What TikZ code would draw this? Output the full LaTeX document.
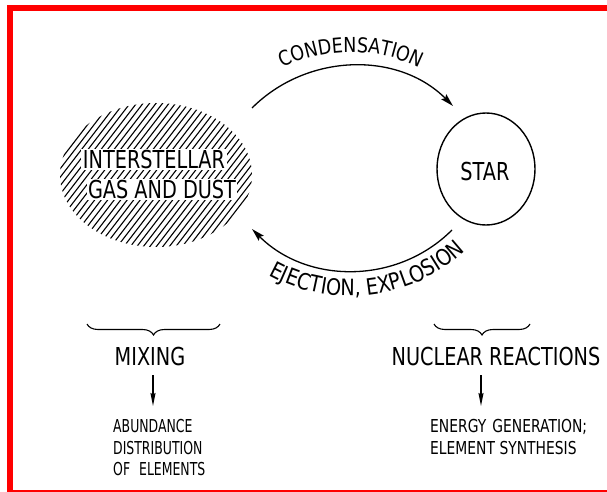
\documentclass[tikz,border=0pt]{standalone}
\usepackage{fontspec}
\usetikzlibrary{arrows.meta,decorations.text,decorations.pathreplacing,shapes.geometric}
\newfontfamily\lettA[FakeStretch=0.78]{DejaVu Sans}
\newfontfamily\lettB[FakeStretch=0.85]{DejaVu Sans}
\newfontfamily\lettC[FakeStretch=0.70]{DejaVu Sans}
\newcommand\bigtxt{\lettA\fontsize{24.7}{28}\selectfont}
\newcommand\condtxt{\lettB\fontsize{20.6}{24}\selectfont}
\newcommand\ejtxt{\lettB\fontsize{22.6}{26}\selectfont}
\newcommand\smalltxtL{\lettC\fontsize{17.8}{21}\selectfont}
\newcommand\smalltxtR{\lettA\fontsize{17.8}{21}\selectfont}
\begin{document}
\begin{tikzpicture}[x=1pt,y=-1pt,
  biglbl/.style={font=\bigtxt, inner sep=1.5pt, text height=18pt, text depth=0pt},
  smallL/.style={font=\smalltxtL, inner sep=0pt, anchor=base west},
  smallR/.style={font=\smalltxtR, inner sep=0pt, anchor=base west},
  arr/.style={-{Stealth[length=13pt,width=7pt,inset=2pt]}, line width=1.3pt},
  darr/.style={-{Stealth[length=13pt,width=5pt,inset=1.5pt]}, line width=1.3pt},
  bracestyle/.style={decorate, decoration={brace, mirror, amplitude=11pt}, line width=1.1pt},
  hatch/.style={line width=1.1pt}]
\useasboundingbox (0,0) rectangle (607,492);
% frame
\fill[red] (7,5) rectangle (607,11);
\fill[red] (7,5) rectangle (13,492);
\fill[red] (13,489.8) rectangle (607,491.6);
% hatched cloud
\coordinate (cloud) at (156,175);
\begin{scope}
  \clip (cloud) ellipse [x radius=96, y radius=72];
  \foreach \t in {-75,-68.5,...,255} \draw[hatch] (\t,260) -- ++(140,-182);
\end{scope}
\node[biglbl, fill=white] (ism1) at (154,159) {INTERSTELLAR};
\node[biglbl, fill=white] (ism2) at (162,189) {GAS AND DUST};
% star
\node[draw, ellipse, line width=1.4pt, minimum width=98pt, minimum height=112pt, inner sep=0pt] (star) at (486,169) {};
\node[biglbl] (startxt) at (485,171) {STAR};
% condensation
\coordinate (c0) at (252,108);
\coordinate (c1) at (453,106);
\draw[arr] (c0) .. controls (307,53) and (398,51) .. (c1);
\path[decorate, decoration={text along path, text align=center, text={|\condtxt|CONDENSATION}}]
  (232.3,107.4) .. controls (294.3,33.6) and (407.7,33.6) .. (469.7,107.4);
% ejection
\coordinate (e0) at (452,230);
\coordinate (e1) at (252,229);
\draw[arr] (e0) .. controls (397,285) and (307,284) .. (e1);
\path[decorate, decoration={text along path, text align=center, text={|\ejtxt|EJECTION, EXPLOSION}}]
  (236.3,252.3) .. controls (313.1,321.4) and (433.1,306.7) .. (490.9,221.1);
% braces
\coordinate (bl0) at (87,324); \coordinate (bl1) at (220,324);
\coordinate (br0) at (434,324); \coordinate (br1) at (530,324);
\draw[bracestyle] (bl0) -- (bl1);
\draw[bracestyle] (br0) -- (br1);
% labels
\node[biglbl] (mix) at (150,356) {MIXING};
\node[biglbl] (nuc) at (496,356) {NUCLEAR REACTIONS};
\coordinate (ma0) at (153,375); \coordinate (ma1) at (153,406);
\coordinate (na0) at (481,375); \coordinate (na1) at (481,406);
\draw[darr] (ma0) -- (ma1);
\draw[darr] (na0) -- (na1);
\node[smallL] (ab1) at (113,432) {ABUNDANCE};
\node[smallL] (ab2) at (113,454) {DISTRIBUTION};
\node[smallL] (ab3) at (113,475) {OF\hspace{9pt}ELEMENTS};
\node[smallR] (en1) at (430,432.5) {ENERGY\hspace{6pt}GENERATION;};
\node[smallR] (en2) at (430,454.5) {ELEMENT SYNTHESIS};
\end{tikzpicture}
\end{document}
